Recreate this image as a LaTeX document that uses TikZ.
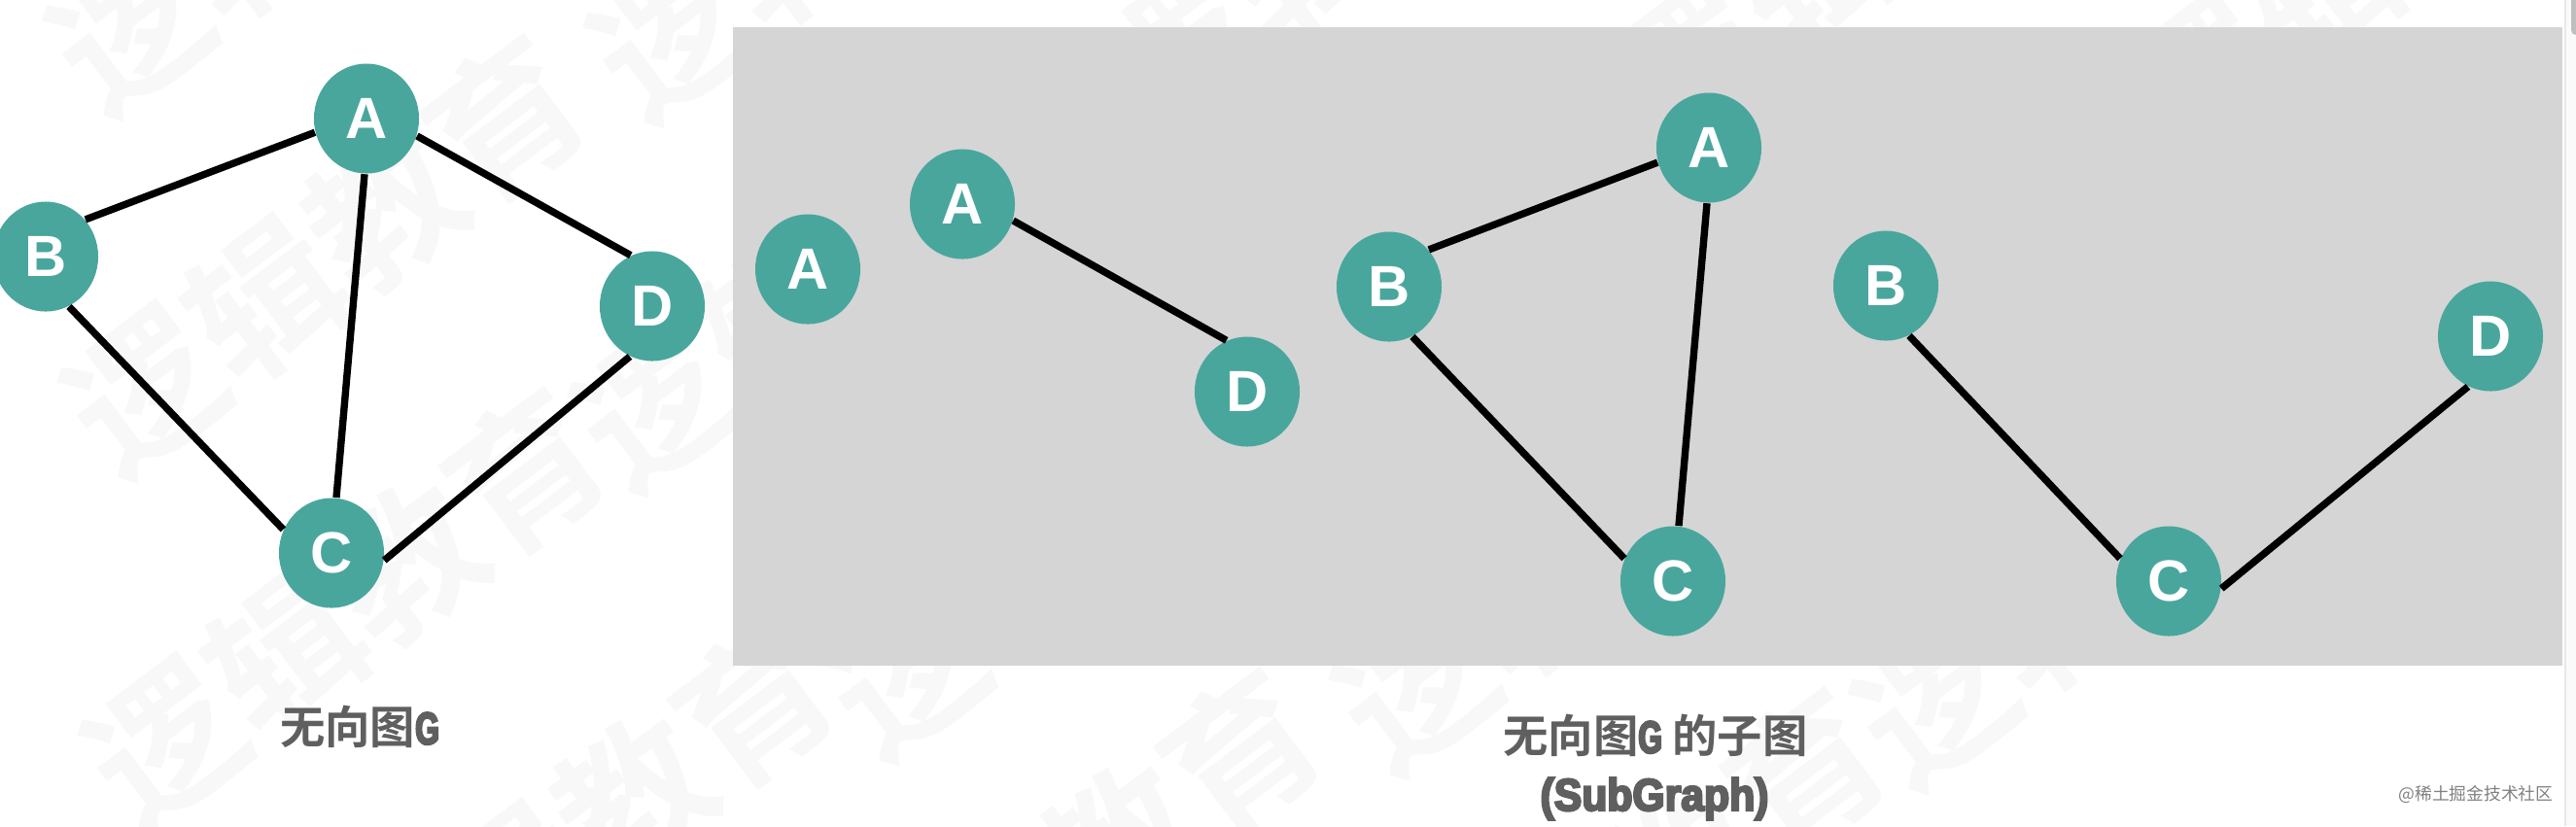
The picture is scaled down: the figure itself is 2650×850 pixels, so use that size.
\documentclass[tikz,border=0pt]{standalone}
\usepackage{fontspec}
\usetikzlibrary{shapes.geometric}
\setmainfont{Liberation Sans}
\newfontfamily\cjkfont{Noto Sans CJK SC}[BoldFont={Noto Sans CJK SC Bold}]
\newfontfamily\heavyfont[FakeBold=5,FakeStretch=0.68]{Liberation Sans Bold}
\newfontfamily\widefont[FakeBold=5,FakeStretch=0.92]{Liberation Sans Bold}
\definecolor{nodeteal}{HTML}{49A69D}
\definecolor{panelgray}{HTML}{D5D5D5}
\definecolor{captiongray}{HTML}{5F5F5F}
\definecolor{markgray}{HTML}{F8F8F8}
\tikzset{
  vertex/.style={ellipse, inner sep=0pt, fill=nodeteal, text=white, minimum width=1.08cm, minimum height=1.13cm, font=\bfseries\fontsize{17}{17}\selectfont},
  edge/.style={line width=2.1pt, black},
  caption/.style={inner sep=0pt, text=captiongray, font=\fontsize{13.2}{15}\selectfont},
  wmark/.style={inner sep=0pt, rotate=37, text=markgray, font=\cjkfont\bfseries\fontsize{44}{44}\selectfont}
}
\begin{document}
\begin{tikzpicture}[x=.01cm,y=-.01cm]
\useasboundingbox (0,0) rectangle (2650,850);
\clip (0,0) rectangle (2650,850);
% watermark
\node[wmark] (wm0) at (319,-110){逻辑教育};
\node[wmark] (wm1) at (875,-103){逻辑教育};
\node[wmark] (wm2) at (1400,-88){逻辑教育};
\node[wmark] (wm3) at (1925,-73){逻辑教育};
\node[wmark] (wm4) at (2450,-58){逻辑教育};
\node[wmark] (wm5) at (334,262){逻辑教育};
\node[wmark] (wm6) at (859,277){逻辑教育};
\node[wmark] (wm7) at (355,625){逻辑教育};
\node[wmark] (wm8) at (590,865){逻辑教育};
\node[wmark] (wm9) at (1091,914){逻辑教育};
\node[wmark] (wm10) at (1672,934){逻辑教育};
\node[wmark] (wm11) at (1117,553){逻辑教育};
\node[wmark] (wm12) at (1642,568){逻辑教育};
\node[wmark] (wm13) at (2176,583){逻辑教育};
% panel
\fill[panelgray] (754,28) rectangle (2636,685);
\fill[black!2] (2639,0) rectangle (2650,850);
\draw[line width=.6pt, black!9] (2639,0) -- (2639,850);
\fill[black!25, rounded corners=.05cm] (2645,-10) rectangle (2660,36);
% graph G
\node[vertex] (ga) at (377,122){A};
\node[vertex] (gb) at (47,264){B};
\node[vertex] (gc) at (341,569){C};
\node[vertex] (gd) at (671,315){D};
\draw[edge](ga.195) -- (gb.43);
\draw[edge](ga.268) -- (gc.85);
\draw[edge](ga.-19) -- (gd.113);
\draw[edge](gb.-65) -- (gc.154);
\draw[edge](gc.-8) -- (gd.246);
% subgraphs
\node[vertex] (sa) at (831,277){A};
\node[vertex] (ta) at (990,210){A};
\node[vertex] (td) at (1283,403){D};
\draw[edge](ta.-18) -- (td.112);
\node[vertex] (ua) at (1758,152){A};
\node[vertex] (ub) at (1429,295){B};
\node[vertex] (uc) at (1721,598){C};
\draw[edge](ua.196) -- (ub.43);
\draw[edge](ua.268) -- (uc.84);
\draw[edge](ub.-65) -- (uc.155);
\node[vertex] (vb) at (1940,294){B};
\node[vertex] (vc) at (2231,598){C};
\node[vertex] (vd) at (2562,346){D};
\draw[edge](vb.-65) -- (vc.155);
\draw[edge](vc.-8) -- (vd.246);
% captions
\node[caption] (capg) at (370,748){\cjkfont\bfseries 无向图{\heavyfont G}};
\node[caption] (caps) at (1703,757){\cjkfont\bfseries 无向图{\heavyfont G} 的子图};
\node[caption] (capt) at (1702,822){\widefont (SubGraph)};
\node[inner sep=0pt, text=black!50, font=\cjkfont\fontsize{5.05}{7}\selectfont] (credit) at (2547,817){@稀土掘金技术社区};
\end{tikzpicture}
\end{document}
